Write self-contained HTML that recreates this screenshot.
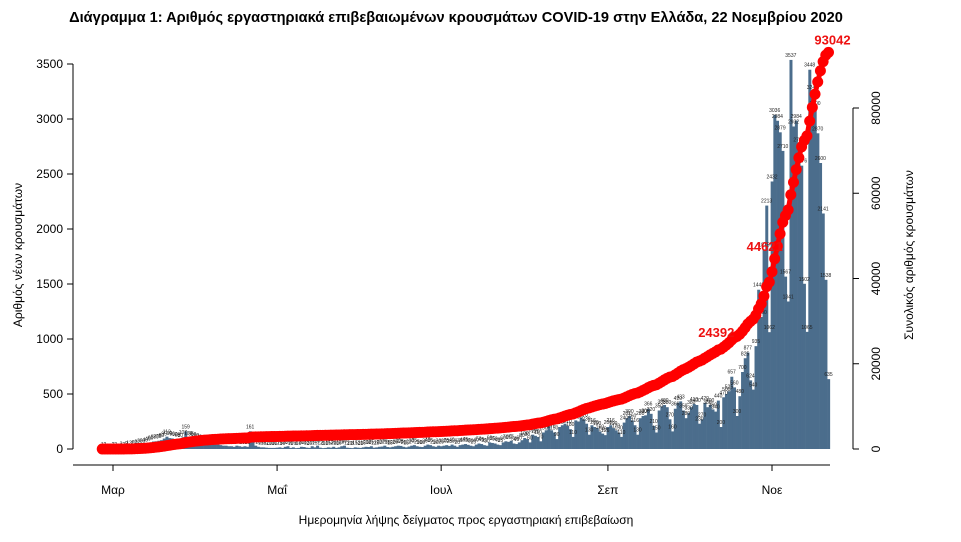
<!DOCTYPE html>
<html><head><meta charset="utf-8"><style>
body{margin:0;background:#fff;font-family:"Liberation Sans",sans-serif;}
svg text{font-family:"Liberation Sans","DejaVu Sans",sans-serif;}
</style></head><body>
<svg id="chart" width="961" height="537" viewBox="0 0 961 537" xmlns="http://www.w3.org/2000/svg">
<text x="456" y="22" text-anchor="middle" font-size="14.6" font-weight="bold">Διάγραμμα 1: Αριθμός εργαστηριακά επιβεβαιωμένων κρουσμάτων COVID-19 στην Ελλάδα, 22 Νοεμβρίου 2020</text>
<text transform="translate(22,255) rotate(-90)" text-anchor="middle" font-size="12">Αριθμός νέων κρουσμάτων</text>
<text transform="translate(913,255) rotate(-90)" text-anchor="middle" font-size="12">Συνολικός αριθμός κρουσμάτων</text>
<text x="466" y="524" text-anchor="middle" font-size="12">Ημερομηνία λήψης δείγματος προς εργαστηριακή επιβεβαίωση</text>
<g id="axes"></g><g id="bars"></g><g id="blabels"></g><g id="cum"></g><g id="clabels"></g>
</svg>
<script>
const daily = [
1,2,0,0,
2,2,0,3,2,9,13,7,20,22, 30,33,40,49,60,68,70,75,80,95, 112,99,96,90,85,80,107,159,100,95, 90,
80,70,65,60,55,50,45,40,40,35, 30,30,25,25,20,30,25,20,25,20, 161,60,30,20,15,15,12,10,10,10,
12,15,10,20,25,10,15,8,10,20, 18,12,10,25,15,30,12,8,10,15, 12,20,10,15,25,30,12,10,8,15, 12,
10,15,20,18,25,12,15,20,22,30, 18,15,20,25,30,28,20,15,22,30, 35,25,20,18,30,40,35,25,20,30,
25,30,35,28,40,30,20,35,40,45, 38,30,25,40,50,45,35,30,60,55, 50,40,35,60,70,65,75,50,45,60, 80,
100,90,60,130,120,110,70,150,170,206, 170,150,90,200,216,230,210,180,110,260, 250,284,270,230,130,216,200,190,160,140, 126,
200,216,190,170,150,110,240,281,300,260, 216,130,280,300,306,366,320,210,150,350, 388,400,380,270,160,366,420,433,350,280,
330,380,410,400,230,270,420, 380,400,360,340,440,200,470, 500,525,657,560,300,480,700, 825,877,624,540,935,1448,1200, 1815,2213,1062,
2432,3036,2984,2879,2710,1567,1341, 3537,2932,2984,2766,2576,1502,1065, 3448,3246,3100,2870,2600,2141,1538,635
];
const leftTicks = [0,500,1000,1500,2000,2500,3000,3500];
const rightTicks = [0,20000,40000,60000,80000];
const monthLabels = ["Μαρ","Μαΐ","Ιουλ","Σεπ","Νοε"];
const monthOffsets = [4,65,126,188,249];
const cumLabelIdx = [232,250,270];

const NS="http://www.w3.org/2000/svg";
const dx=(772-113)/245;
const xs=i=>113+(i-4)*dx;
const yL=v=>449-v*(385/3500);
const yR=v=>449-v*(341/80000);
function mk(tag,attrs,parent,txt){const e=document.createElementNS(NS,tag);for(const k in attrs)e.setAttribute(k,attrs[k]);if(txt!==undefined)e.textContent=txt;document.getElementById(parent).appendChild(e);return e;}
let e=mk('line',{x1:73,y1:yL(0),x2:73,y2:yL(3500),stroke:'#000'},'axes');

e=mk('line',{x1:73,y1:465,x2:830,y2:465,stroke:'#000'},'axes');

leftTicks.forEach(t=>{mk('line',{x1:67,x2:73,y1:yL(t),y2:yL(t),stroke:'#000'},'axes');
 e=mk('text',{x:63,y:yL(t)+4,'text-anchor':'end','font-size':12},'axes',String(t));
 });
e=mk('line',{x1:853,y1:yR(0),x2:853,y2:yR(80000),stroke:'#000'},'axes');

rightTicks.forEach(t=>{mk('line',{x1:853,x2:859,y1:yR(t),y2:yR(t),stroke:'#000'},'axes');
 e=mk('text',{transform:`translate(880,${yR(t)}) rotate(-90)`,'text-anchor':'middle','font-size':12},'axes',String(t));
 });
monthLabels.forEach((m,k)=>{const x=xs(monthOffsets[k]);mk('line',{x1:x,x2:x,y1:465,y2:471,stroke:'#000'},'axes');
 e=mk('text',{x:x,y:494,'text-anchor':'middle','font-size':12},'axes',m);
 });
daily.forEach((v,i)=>{
 e=mk('rect',{x:xs(i)-dx/2,y:yL(v),width:dx+0.3,height:449-yL(v),fill:'#4b6d8c'},'bars');
 
 if(v>0){e=mk('text',{x:xs(i),y:yL(v)-3,'text-anchor':'middle','font-size':5,fill:'#222'},'blabels',String(v));
 }
});
let c=0;const cum=daily.map(v=>c+=v);
const pts=cum.map((v,i)=>xs(i)+','+yR(v)).join(' ');
e=mk('polyline',{points:pts,fill:'none',stroke:'#ff0000','stroke-width':5},'cum');

cum.forEach((v,i)=>{e=mk('circle',{cx:xs(i),cy:yR(v),r:5.5,fill:'#ff0000'},'cum');
 });
cumLabelIdx.forEach(i=>{const i2=Math.min(i,cum.length-1);const last=i2===cum.length-1;
 e=mk('text',{x:xs(i2)+(last?4:-10),y:yR(cum[i2])-8,'text-anchor':'middle','font-size':13,'font-weight':'bold',fill:'#ee1111'},'clabels',String(cum[i2]));
 });
</script>
</body></html>
